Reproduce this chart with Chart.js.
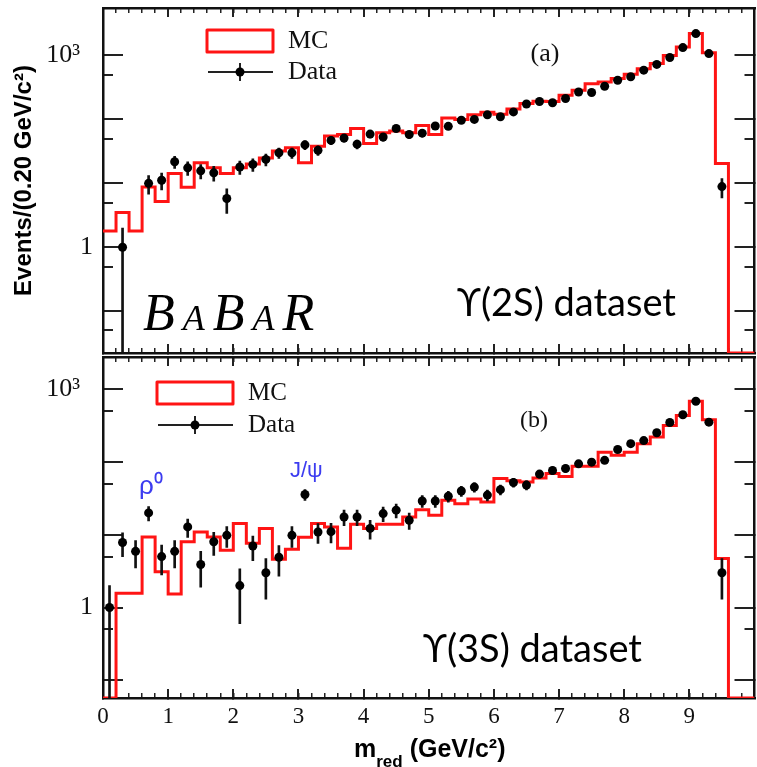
<!DOCTYPE html>
<html><head><meta charset="utf-8">
<script src="https://cdn.jsdelivr.net/npm/chart.js@4.4.1/dist/chart.umd.min.js"></script>
<style>
html,body{margin:0;padding:0;background:#fff;overflow:hidden;width:757px;height:767px}
#wrap{position:relative;width:757px;height:767px;overflow:hidden;background:#fff}
canvas{position:absolute;left:0;top:0}
</style></head><body>
<div id="wrap"><canvas id="cA" width="759" height="767"></canvas><canvas id="cB" width="759" height="767"></canvas></div>
<script>
// ---------- data ----------
const binLowEdges = [0.0,0.2,0.4,0.6,0.8,1.0,1.2,1.4,1.6,1.8,2.0,2.2,2.4,2.6,2.8,3.0,3.2,3.4,3.6,3.8,4.0,4.2,4.4,4.6,4.8,5.0,5.2,5.4,5.6,5.8,6.0,6.2,6.4,6.6,6.8,7.0,7.2,7.4,7.6,7.8,8.0,8.2,8.4,8.6,8.8,9.0,9.2,9.4,9.6,9.8];
const histEnd = 10.0;

// panel (a) Upsilon(2S)
const mcA = [1.8,3.5,1.8,8.8,5.2,14.3,8.7,21,17.6,14.2,17.5,20,25,32,36,21,38,55,58,72,42,62,66,62,80,58,105,100,118,130,120,145,178,192,190,238,285,360,385,435,510,620,750,1000,1360,2200,1100,20.5,0,0];
const dataXA = [0.3,0.7,0.9,1.1,1.3,1.5,1.7,1.9,2.1,2.3,2.5,2.7,2.9,3.1,3.3,3.5,3.7,3.9,4.1,4.3,4.5,4.7,4.9,5.1,5.3,5.5,5.7,5.9,6.1,6.3,6.5,6.7,6.9,7.1,7.3,7.5,7.7,7.9,8.1,8.3,8.5,8.7,8.9,9.1,9.3,9.5];
const dataYA = [1.0,10,11.2,21.8,17.5,15.7,14.6,5.8,18,19.8,23.7,30,30,40,33,47,51,41,59,53,72,58,61,79,78,97,100,118,110,131,174,191,182,212,268,264,330,410,465,590,725,930,1330,2200,1070,8.9];
const errA = [1.0,3.2,3.3,4.7,4.2,4.0,3.8,2.4,4.2,4.4,4.9,5.5,5.5,6.3,5.7,6.9,7.1,6.4,7.7,7.3,8.5,7.6,7.8,8.9,8.8,9.8,10,10.9,10.5,11.4,13.2,13.8,13.5,14.6,16.4,16.2,18.2,20.2,21.6,24.3,26.9,30.5,36.5,46.9,32.7,3.0];

// panel (b) Upsilon(3S)
const mcB = [0,1.57,1.57,9.3,3.1,1.53,8.0,10.9,9.3,6.1,14.2,7.6,12.2,4.6,6.3,9.2,14.2,12.8,6.5,13.9,12.2,13.9,13.9,17.5,22,18.5,29.6,26.7,31,28,59,55,53,60,69,63,87,87,136,123,136,178,219,316,433,680,378,4.7,0,0];
const dataXB = [0.1,0.3,0.5,0.7,0.9,1.1,1.3,1.5,1.7,1.9,2.1,2.3,2.5,2.7,2.9,3.1,3.3,3.5,3.7,3.9,4.1,4.3,4.5,4.7,4.9,5.1,5.3,5.5,5.7,5.9,6.1,6.3,6.5,6.7,6.9,7.1,7.3,7.5,7.7,7.9,8.1,8.3,8.5,8.7,8.9,9.1,9.3,9.5];
const dataYB = [1.0,7.8,5.9,19.9,5.0,5.9,12.8,3.9,8.0,9.8,2.0,7.0,3.0,4.9,9.8,35.6,10.9,11.0,17.5,17.5,12.2,19.5,21.7,15.8,29,29,33.7,39.8,45,35,41.5,52,48,68,76,81,94,99,105,148,178,196,251,347,443,680,351,3.0];
const errB = [1.0,2.8,2.4,4.5,2.2,2.4,3.6,2.0,2.8,3.1,1.4,2.6,1.7,2.2,3.1,6.0,3.3,3.3,4.2,4.2,3.5,4.4,4.7,4.0,5.4,5.4,5.8,6.3,6.7,5.9,6.4,7.2,6.9,8.2,8.7,9.0,9.7,9.9,10.2,12.2,13.3,14.0,15.8,18.6,21.0,26.1,18.7,1.7];

// ticks
const xTickValues = [0,1,2,3,4,5,6,7,8,9];
const xTickLabels = ['0','1','2','3','4','5','6','7','8','9'];
const xMinorTickValues = binLowEdges;
const yMajorTicks = [0.1,1,10,100,1000];
const yMajorLabels = ['','1','','','10\u00B3\u2002'];
const yMinorTicks = [0.05,0.5,5,50,500];

// ---------- helpers ----------
function zeroPad(s){ s.paddingLeft=0; s.paddingRight=0; s.paddingTop=0; s.paddingBottom=0; }
function fixH(h){ return s=>{ s.height=h; zeroPad(s); }; }
function fixW(w){ return s=>{ s.width=w; zeroPad(s); }; }
function setTicks(vals){ return s=>{ s.ticks = vals.filter(v=>v>=s.min-1e-9 && v<=s.max+1e-9).map(v=>({value:v})); }; }

const FRAME = {display:true, color:'#111', width:2.5};
const NOB = {display:false};
const TICKC = '#222';

function buildChart(canvas, p){
  // empty bins / zero lower error edges are drawn on the axis floor (as ROOT does)
  const floor = v => (v > 0 ? v : p.yMin);
  const mcPts = binLowEdges.map((e,i)=>({x:e, y:floor(p.mc[i])}));
  mcPts.push({x:histEnd, y:floor(p.mc[p.mc.length-1])});
  const pts = p.dx.map((x,i)=>({x:x, y:p.dy[i]}));
  const bars = p.dx.map((x,i)=>({x:x, y:[floor(p.dy[i]-p.err[i]), p.dy[i]+p.err[i]]}));

  const yCommon = {type:'logarithmic', min:p.yMin, max:p.yMax};
  const xCommon = {type:'linear', min:0, max:histEnd, offset:false};
  const gx = (len, lw)=>({drawOnChartArea:false, drawTicks:true, tickLength:len, color:TICKC, lineWidth:lw, offset:false});

  return new Chart(canvas, {
    type:'line',
    data:{datasets:[
      {type:'scatter', label:'Data', data:pts, xAxisID:'x', yAxisID:'y', order:0,
       pointRadius:4.5, pointBackgroundColor:'#000', pointBorderWidth:0, showLine:false},
      {type:'bar', label:'Data errors', data:bars, xAxisID:'x', yAxisID:'y', order:1,
       backgroundColor:'#111', borderWidth:0, barThickness:2},
      {type:'line', label:'MC', data:mcPts, xAxisID:'x', yAxisID:'y', order:2,
       stepped:'before', borderColor:'#ff1414', borderWidth:3, pointRadius:0, fill:false,
       borderJoinStyle:'miter', tension:0}
    ]},
    options:{
      responsive:false, animation:false, devicePixelRatio:1,
      layout:{padding:0},
      plugins:{legend:{display:false}, title:{display:false}, tooltip:{enabled:false}},
      events:[],
      scales:{
        x:Object.assign({}, xCommon, {position:'bottom', weight:1,
          afterBuildTicks:setTicks(xTickValues), afterFit:fixH(p.bottomH),
          grid:gx(-9,2), border:FRAME,
          ticks:{display:p.showX, autoSkip:false, maxRotation:0, minRotation:0, padding:14, color:'#111',
            font:{family:'Liberation Serif', size:23},
            callback:(v)=>{const k=xTickValues.indexOf(v); return k>=0?xTickLabels[k]:'';}}}),
        xM:Object.assign({}, xCommon, {axis:'x', position:'bottom', weight:0,
          afterBuildTicks:setTicks(xMinorTickValues), afterFit:fixH(0),
          grid:gx(-5,1.5), border:NOB, ticks:{display:false, autoSkip:false}}),
        xT:Object.assign({}, xCommon, {axis:'x', position:'top', weight:1,
          afterBuildTicks:setTicks(xTickValues), afterFit:fixH(p.topH),
          grid:gx(-9,2), border:FRAME, ticks:{display:false, autoSkip:false}}),
        xTM:Object.assign({}, xCommon, {axis:'x', position:'top', weight:0,
          afterBuildTicks:setTicks(xMinorTickValues), afterFit:fixH(0),
          grid:gx(-5,1.5), border:NOB, ticks:{display:false, autoSkip:false}}),
        y:Object.assign({}, yCommon, {position:'left', weight:1,
          afterBuildTicks:setTicks(yMajorTicks), afterFit:fixW(103),
          grid:{drawOnChartArea:false, tickLength:-20, color:TICKC, lineWidth:2},
          border:FRAME,
          ticks:{autoSkip:false, padding:30, color:'#111', font:{family:'Liberation Serif', size:26},
            callback:(v)=>{const k=yMajorTicks.indexOf(v); return k>=0?yMajorLabels[k]:'';}},
          title:{display:!!p.yTitle, text:p.yTitle||'', color:'#000', padding:{top:10,bottom:0},
            font:{family:'Liberation Sans', weight:'bold', size:24}}}),
        yM:Object.assign({}, yCommon, {axis:'y', position:'left', weight:0,
          afterBuildTicks:setTicks(yMinorTicks), afterFit:fixW(0),
          grid:{drawOnChartArea:false, tickLength:-10, color:TICKC, lineWidth:2},
          border:NOB, ticks:{display:false, autoSkip:false}}),
        yR:Object.assign({}, yCommon, {axis:'y', position:'right', weight:1,
          afterBuildTicks:setTicks(yMajorTicks), afterFit:fixW(0),
          grid:{drawOnChartArea:false, tickLength:-20, color:TICKC, lineWidth:2},
          border:FRAME, ticks:{display:false, autoSkip:false}}),
        yRM:Object.assign({}, yCommon, {axis:'y', position:'right', weight:0,
          afterBuildTicks:setTicks(yMinorTicks), afterFit:fixW(0),
          grid:{drawOnChartArea:false, tickLength:-10, color:TICKC, lineWidth:2},
          border:NOB, ticks:{display:false, autoSkip:false}})
      }
    },
    plugins:[{id:'deco', afterDraw(chart){ p.deco(chart.ctx); }}]
  });
}

function legend(ctx, L){
  ctx.save();
  ctx.strokeStyle='#ff1414'; ctx.lineWidth=3; ctx.lineJoin='round';
  ctx.strokeRect(L.rx, L.ry, L.rw, L.rh);
  ctx.strokeStyle='#222'; ctx.lineWidth=2;
  ctx.beginPath(); ctx.moveTo(L.rx+1, L.dy); ctx.lineTo(L.rx+L.rw, L.dy); ctx.stroke();
  const cx = L.rx + L.rw/2;
  ctx.beginPath(); ctx.moveTo(cx, L.dy-9); ctx.lineTo(cx, L.dy+9); ctx.stroke();
  ctx.fillStyle='#000'; ctx.beginPath(); ctx.arc(cx, L.dy, 4.5, 0, Math.PI*2); ctx.fill();
  ctx.fillStyle='#111'; ctx.font = L.fs+"px 'Liberation Serif'"; ctx.textBaseline='middle'; ctx.textAlign='left';
  ctx.fillText('MC', L.tx, L.ry + L.rh/2);
  ctx.fillText('Data', L.tx, L.dy);
  ctx.restore();
}

buildChart(document.getElementById('cA'), {
  mc:mcA, dx:dataXA, dy:dataYA, err:errA, yMin:0.0222, yMax:5530, topH:8, bottomH:414, showX:false,
  yTitle:'Events/(0.20 GeV/c\u00B2)',
  deco(ctx){
    legend(ctx, {rx:207, ry:30, rw:66, rh:22, dy:72, tx:288, fs:26});
    ctx.save();
    ctx.fillStyle='#111'; ctx.textBaseline='middle'; ctx.textAlign='center';
    ctx.font="26px 'Liberation Serif'"; ctx.fillText('(a)', 545, 54);
    ctx.textAlign='left'; ctx.textBaseline='alphabetic';
    ctx.fillStyle='#000';
    ctx.font="italic small-caps 52px 'Liberation Serif'";
    try{ ctx.letterSpacing='8px'; }catch(e){}
    ctx.fillText('BaBaR', 143, 330);
    try{ ctx.letterSpacing='0px'; }catch(e){}
    ctx.font="38px Lato, 'Liberation Sans', sans-serif";
    ctx.fillText('\u03D2(2S) dataset', 457, 316);
    ctx.restore();
  }
});

buildChart(document.getElementById('cB'), {
  mc:mcB, dx:dataXB, dy:dataYB, err:errB, yMin:0.0572, yMax:2754, topH:357, bottomH:69, showX:true,
  yTitle:null,
  deco(ctx){
    legend(ctx, {rx:157, ry:382, rw:76, rh:22, dy:425, tx:248, fs:25});
    ctx.save();
    ctx.fillStyle='#111'; ctx.textBaseline='middle'; ctx.textAlign='center';
    ctx.font="24px 'Liberation Serif'"; ctx.fillText('(b)', 534, 421);
    ctx.textAlign='left'; ctx.textBaseline='alphabetic';
    ctx.fillStyle='#3c3cf0';
    ctx.font="26px 'Liberation Sans'"; ctx.fillText('\u03C1\u2070', 139, 494);
    ctx.font="22px 'Liberation Sans'"; ctx.fillText('J/\u03C8', 290, 477);
    ctx.fillStyle='#000';
    ctx.font="38px Lato, 'Liberation Sans', sans-serif";
    ctx.fillText('\u03D2(3S) dataset', 423, 662);
    // x axis title with subscript
    ctx.font="bold 25px 'Liberation Sans'";
    let x = 354;
    ctx.fillText('m', x, 757); x += ctx.measureText('m').width;
    ctx.font="bold 17px 'Liberation Sans'";
    ctx.fillText('red', x, 767); x += ctx.measureText('red').width;
    ctx.font="bold 25px 'Liberation Sans'";
    ctx.fillText(' (GeV/c\u00B2)', x, 757);
    ctx.restore();
  }
});
</script>
</body></html>
